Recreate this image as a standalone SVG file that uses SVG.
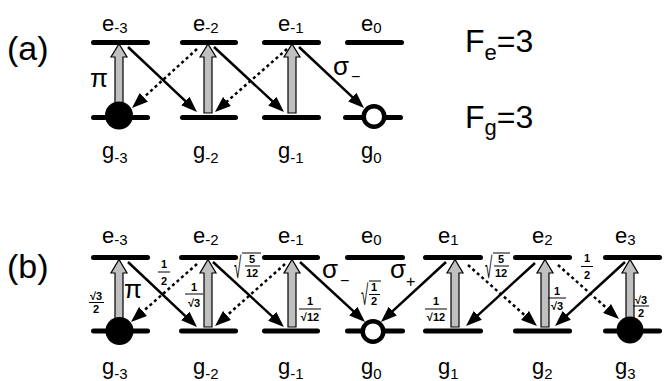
<svg xmlns="http://www.w3.org/2000/svg" width="670" height="381" viewBox="0 0 670 381">
<defs>
<marker id="ah" markerUnits="userSpaceOnUse" markerWidth="16" markerHeight="12" refX="6" refY="6" orient="auto"><path d="M0,0 L16,6 L0,12 z" fill="#000"/></marker>
<style>
.lv{stroke:#000;stroke-width:5;stroke-linecap:round}
.up{fill:#c0c0c0;stroke:#000;stroke-width:1.2}
.sa{stroke:#000;stroke-width:2.5;fill:none;marker-end:url(#ah)}
.da{stroke:#000;stroke-width:2.5;stroke-dasharray:3 3;fill:none;marker-end:url(#ah)}
text{font-family:"Liberation Sans",Arial,sans-serif;fill:#000}
.lb{font-size:22px}
.sb{font-size:15px}
.fr{font-size:11px;font-weight:bold;text-anchor:middle}
.rad{font-size:11px}
.fb{stroke:#000;stroke-width:1}
.big{font-size:34px}
.gr{font-size:26px}
.fill{fill:#000}
.open{fill:#fff;stroke:#000;stroke-width:4.5}
</style>
</defs>
<rect width="670" height="381" fill="#fff"/>

<!-- Panel (a) -->
<text class="big" x="7" y="60">(a)</text>
<text x="465" y="52" font-size="32">F<tspan font-size="22" dy="8">e</tspan><tspan dy="-8">=3</tspan></text>
<text x="465" y="128" font-size="32">F<tspan font-size="22" dy="7">g</tspan><tspan dy="-7">=3</tspan></text>

<g id="a-e-3"><line class="lv" x1="93.5" y1="42.5" x2="147.5" y2="42.5"/><text class="lb" x="102" y="31">e<tspan class="sb" dy="2">-3</tspan></text></g>
<g id="a-e-2"><line class="lv" x1="182.5" y1="42.5" x2="235.5" y2="42.5"/><text class="lb" x="193" y="31">e<tspan class="sb" dy="2">-2</tspan></text></g>
<g id="a-e-1"><line class="lv" x1="264.5" y1="42.5" x2="318.5" y2="42.5"/><text class="lb" x="278" y="31">e<tspan class="sb" dy="2">-1</tspan></text></g>
<g id="a-e0"><line class="lv" x1="347.5" y1="42.5" x2="401.5" y2="42.5"/><text class="lb" x="361" y="31">e<tspan class="sb" dy="2">0</tspan></text></g>

<g id="a-g-3"><line class="lv" x1="93.5" y1="117.5" x2="147.5" y2="117.5"/><text class="lb" x="102" y="158">g<tspan class="sb" dy="5">-3</tspan></text></g>
<g id="a-g-2"><line class="lv" x1="182.5" y1="117.5" x2="235.5" y2="117.5"/><text class="lb" x="193" y="158">g<tspan class="sb" dy="5">-2</tspan></text></g>
<g id="a-g-1"><line class="lv" x1="264.5" y1="117.5" x2="318.5" y2="117.5"/><text class="lb" x="278" y="158">g<tspan class="sb" dy="5">-1</tspan></text></g>
<g id="a-g0"><line class="lv" x1="345.5" y1="117.5" x2="400.5" y2="117.5"/><text class="lb" x="361" y="158">g<tspan class="sb" dy="5">0</tspan></text></g>

<g id="a-connectors">
<polygon class="up" points="115,113 115,57 111,57 119,44 127,57 123,57 123,113"/>
<polygon class="up" points="204,113 204,57 200,57 208,44 216,57 212,57 212,113"/>
<polygon class="up" points="288,113 288,57 284,57 292,44 300,57 296,57 296,113"/>
<line class="sa" x1="128" y1="47" x2="189.7" y2="105.1"/>
<line class="sa" x1="214" y1="47" x2="276.7" y2="105.2"/>
<line class="sa" x1="299" y1="47" x2="356.7" y2="101.2"/>
<line class="da" x1="197" y1="49" x2="139.4" y2="101.3"/>
<line class="da" x1="287" y1="49" x2="222.5" y2="105.4"/>
</g>
<g id="a-pop">
<circle class="fill" cx="119" cy="115.5" r="14"/>
<circle class="open" cx="374" cy="116.5" r="10.3"/>
</g>
<text class="gr" x="90" y="87" font-size="28">π</text>
<text class="gr" x="333" y="75">σ<tspan x="351" dy="7" font-size="16">−</tspan></text>

<!-- Panel (b) -->
<text class="big" x="7" y="278">(b)</text>

<g id="b-e-3"><line class="lv" x1="93.5" y1="257.5" x2="147.5" y2="257.5"/><text class="lb" x="102" y="243">e<tspan class="sb" dy="2">-3</tspan></text></g>
<g id="b-e-2"><line class="lv" x1="181.5" y1="257.5" x2="235.5" y2="257.5"/><text class="lb" x="193" y="243">e<tspan class="sb" dy="2">-2</tspan></text></g>
<g id="b-e-1"><line class="lv" x1="264.5" y1="257.5" x2="317.5" y2="257.5"/><text class="lb" x="278" y="243">e<tspan class="sb" dy="2">-1</tspan></text></g>
<g id="b-e0"><line class="lv" x1="347.5" y1="257.5" x2="402.5" y2="257.5"/><text class="lb" x="361" y="243">e<tspan class="sb" dy="2">0</tspan></text></g>
<g id="b-e1"><line class="lv" x1="425.5" y1="257.5" x2="480.5" y2="257.5"/><text class="lb" x="438" y="243">e<tspan class="sb" dy="2">1</tspan></text></g>
<g id="b-e2"><line class="lv" x1="515.5" y1="257.5" x2="569.5" y2="257.5"/><text class="lb" x="532" y="243">e<tspan class="sb" dy="2">2</tspan></text></g>
<g id="b-e3"><line class="lv" x1="605.5" y1="257.5" x2="659.5" y2="257.5"/><text class="lb" x="615" y="243">e<tspan class="sb" dy="2">3</tspan></text></g>

<g id="b-g-3"><line class="lv" x1="93.5" y1="331" x2="147.5" y2="331"/><text class="lb" x="102" y="374">g<tspan class="sb" dy="5">-3</tspan></text></g>
<g id="b-g-2"><line class="lv" x1="181.5" y1="331" x2="235.5" y2="331"/><text class="lb" x="193" y="374">g<tspan class="sb" dy="5">-2</tspan></text></g>
<g id="b-g-1"><line class="lv" x1="264.5" y1="331" x2="317.5" y2="331"/><text class="lb" x="278" y="374">g<tspan class="sb" dy="5">-1</tspan></text></g>
<g id="b-g0"><line class="lv" x1="347.5" y1="331" x2="402.5" y2="331"/><text class="lb" x="361" y="374">g<tspan class="sb" dy="5">0</tspan></text></g>
<g id="b-g1"><line class="lv" x1="425.5" y1="331" x2="480.5" y2="331"/><text class="lb" x="438" y="374">g<tspan class="sb" dy="5">1</tspan></text></g>
<g id="b-g2"><line class="lv" x1="515.5" y1="331" x2="569.5" y2="331"/><text class="lb" x="532" y="374">g<tspan class="sb" dy="5">2</tspan></text></g>
<g id="b-g3"><line class="lv" x1="605.5" y1="331" x2="659.5" y2="331"/><text class="lb" x="615" y="374">g<tspan class="sb" dy="5">3</tspan></text></g>

<g id="b-connectors">
<polygon class="up" points="115,327 115,273 111,273 119,259.5 127,273 123,273 123,327"/>
<polygon class="up" points="204,327 204,273 200,273 208,259.5 216,273 212,273 212,327"/>
<polygon class="up" points="288,327 288,273 284,273 292,259.5 300,273 296,273 296,327"/>
<polygon class="up" points="451,327 451,273 447,273 455,259.5 463,273 459,273 459,327"/>
<polygon class="up" points="541,327 541,273 537,273 545,259.5 553,273 549,273 549,327"/>
<polygon class="up" points="626,327 626,273 622,273 630,259.5 638,273 634,273 634,327"/>
<line class="sa" x1="128" y1="262" x2="189.7" y2="320.1"/>
<line class="sa" x1="213" y1="262" x2="276.6" y2="320.3"/>
<line class="sa" x1="300" y1="262" x2="357.7" y2="315.2"/>
<line class="sa" x1="446" y1="262" x2="388.3" y2="315.2"/>
<line class="sa" x1="535" y1="263" x2="473.4" y2="319.3"/>
<line class="sa" x1="625" y1="262" x2="562.4" y2="319.3"/>
<line class="da" x1="197" y1="264" x2="138.5" y2="315.4"/>
<line class="da" x1="285" y1="264" x2="222.5" y2="319.4"/>
<line class="da" x1="468" y1="265" x2="529.5" y2="319.4"/>
<line class="da" x1="558" y1="265" x2="611.5" y2="312.4"/>
</g>
<g id="b-pop">
<circle class="fill" cx="119.5" cy="331" r="14"/>
<circle class="fill" cx="630" cy="330" r="13.5"/>
<circle class="open" cx="373" cy="331.5" r="10.3"/>
</g>
<text class="gr" x="124" y="298" font-size="25">π</text>
<text class="gr" x="322" y="278">σ<tspan x="340" dy="8" font-size="16">−</tspan></text>
<text class="gr" x="390" y="278">σ<tspan x="406" dy="9" font-size="16">+</tspan></text>

<g id="coefficients">
<text class="fr" x="96" y="300">√3</text><line class="fb" x1="89" y1="302.5" x2="104" y2="302.5"/><text class="fr" x="96" y="313">2</text>
<text class="fr" x="164" y="268">1</text><line class="fb" x1="158" y1="272" x2="170" y2="272"/><text class="fr" x="164" y="285">2</text>
<text class="fr" x="194" y="291">1</text><line class="fb" x1="185" y1="294" x2="203" y2="294"/><text class="fr" x="194" y="307">√3</text>
<text class="rad" transform="translate(234,278) scale(1.2,2.7)">√</text><line class="fb" x1="242" y1="253" x2="261" y2="253"/><text class="fr" x="252" y="263">5</text><line class="fb" x1="245" y1="266" x2="260" y2="266"/><text class="fr" x="252" y="277">12</text>
<text class="fr" x="310" y="305">1</text><line class="fb" x1="299" y1="309" x2="321" y2="309"/><text class="fr" x="310" y="321">√12</text>
<text class="rad" transform="translate(361,305) scale(1.2,2.6)">√</text><line class="fb" x1="369" y1="281" x2="381" y2="281"/><text class="fr" x="374" y="291">1</text><line class="fb" x1="369" y1="294.5" x2="380" y2="294.5"/><text class="fr" x="374" y="305">2</text>
<text class="fr" x="436" y="305">1</text><line class="fb" x1="425" y1="309" x2="447" y2="309"/><text class="fr" x="436" y="321">√12</text>
<text class="rad" transform="translate(485,278) scale(1.2,2.7)">√</text><line class="fb" x1="493" y1="253" x2="510" y2="253"/><text class="fr" x="501" y="263">5</text><line class="fb" x1="494" y1="266" x2="509" y2="266"/><text class="fr" x="501" y="277">12</text>
<text class="fr" x="557" y="295">1</text><line class="fb" x1="548" y1="298" x2="566" y2="298"/><text class="fr" x="557" y="310">√3</text>
<text class="fr" x="587" y="262">1</text><line class="fb" x1="581" y1="266.5" x2="593" y2="266.5"/><text class="fr" x="587" y="279">2</text>
<text class="fr" x="641" y="304">√3</text><line class="fb" x1="633" y1="306" x2="649" y2="306"/><text class="fr" x="641" y="317">2</text>
</g>
</svg>
